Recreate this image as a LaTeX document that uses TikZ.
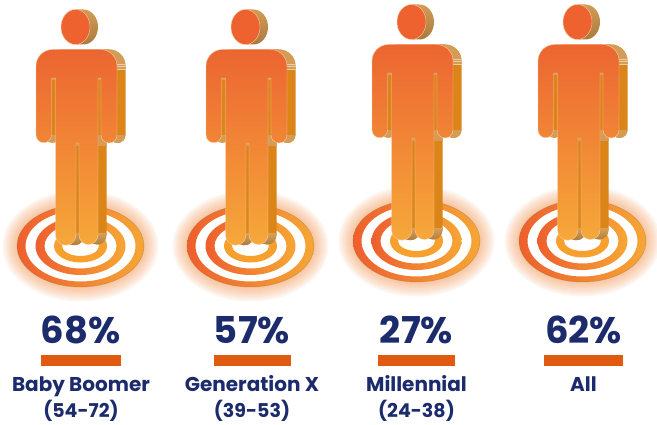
\documentclass[tikz,border=0pt]{standalone}
\usepackage{fontspec}
\setmainfont{Poppins}
\definecolor{navy}{HTML}{1C2B6B}
\definecolor{barc}{HTML}{E05A10}
\definecolor{darkex}{HTML}{DB8518}
\definecolor{tanex}{HTML}{D49C55}
\definecolor{tanlo}{HTML}{A87B3E}
\definecolor{topc}{HTML}{EC6531}
\definecolor{botc}{HTML}{F6A83A}
\definecolor{ringl}{HTML}{EE5F2E}
\definecolor{ringr}{HTML}{F6A635}
\definecolor{glowc}{HTML}{F7944F}
\definecolor{edgec}{HTML}{F8CDA8}
\tikzset{
  pct/.style={font=\bfseries\fontsize{37}{37}\selectfont,text=navy,anchor=base,inner sep=0pt},
  lab/.style={font=\bfseries\fontsize{20}{20}\selectfont,text=navy,anchor=base,inner sep=0pt},
  agelab/.style={font=\bfseries\fontsize{19}{19}\selectfont,text=navy,anchor=base,inner sep=0pt},
  barr/.style={fill=barc,draw=none},
}
\newcommand{\silh}{
  (51.5,78) -- (51.5,135) arc[start angle=0,end angle=180,radius=7.75]
  -- (36,66) arc[start angle=180,end angle=270,radius=16.5]
  -- (100.5,49.5) arc[start angle=270,end angle=360,radius=16.5]
  -- (117,135) arc[start angle=0,end angle=180,radius=8]
  -- (101,78) -- (98,78) -- (98,235) arc[start angle=0,end angle=180,radius=9.5]
  -- (79,143) -- (76,143) -- (76,235) arc[start angle=0,end angle=180,radius=10.25]
  -- (55.5,78) -- cycle}
\newcommand{\person}[2]{%
\begin{scope}[shift={(#1,#2)}]
  % glow
  \foreach \r in {2,4,...,16}{
    \fill[glowc,opacity=0.085] (80.5,246) ellipse[x radius=62+\r,y radius=39.5+\r];
  }
  \fill[white] (80.5,246) ellipse[x radius=63.5,y radius=41];
  % rings
  \path[left color=ringl,right color=ringr,even odd rule]
    (80.5,246) ellipse[x radius=63.5,y radius=41]
    (80.5,246) ellipse[x radius=55,y radius=35.5];
  \draw[black!35!ringr,opacity=.5,line width=.5pt] (80.5,246) ellipse[x radius=63.5,y radius=41];
  \path[left color=ringl,right color=ringr,even odd rule]
    (80.5,246) ellipse[x radius=45,y radius=29]
    (80.5,246) ellipse[x radius=36,y radius=22.5];
  \fill[even odd rule,fill=ringr!85!orange]
    (80.5,246) ellipse[x radius=26.5,y radius=16.5]
    (80.5,246) ellipse[x radius=18.5,y radius=10];
  % head depth
  \path[top color=tanex,bottom color=tanlo]
    (75.5,9.5) -- (83.5,9.5) arc[start angle=-90,end angle=90,x radius=14.5,y radius=17.5]
    -- (75.5,44.5) -- cycle;
  % body depth
  \begin{scope}[xshift=8.5]
    \fill[darkex] \silh;
  \end{scope}
  \begin{scope}[xshift=8.5]
    \clip \silh;
    \fill[tanex] (91,48) rectangle (122,70);
    \fill[tanex] (10,135) rectangle (122,146);
    \path[top color=tanex,bottom color=tanlo] (40,234) rectangle (115,246);
  \end{scope}
  \foreach \yy in {64,66.5,69}{
    \draw[tanex!50!white,line width=.35pt] (117,\yy) -- (125.5,\yy);
  }
  \fill[tanex] (51.5,78) rectangle (55.5,80);
  \fill[tanex] (98,78) rectangle (101,80);
  \fill[tanex] (76,143) rectangle (79,145);
  % front
  \path[top color=topc,bottom color=botc,draw=edgec,line width=.4pt] \silh;
  \fill[topc!97!red,draw=edgec,line width=.4pt] (75.5,27) ellipse[x radius=14.5,y radius=17.5];
\end{scope}}
\begin{document}
\begin{tikzpicture}[x=1pt,y=-1pt]
\useasboundingbox (0,0) rectangle (657,425);
\fill[white] (0,0) rectangle (657,425);
\person{0}{0}
\person{170}{0}
\person{336}{-5}
\person{502}{-5}
\node[pct] (p1) at (80.5,343) {68\%};
\node[pct] (p2) at (252,343) {57\%};
\node[pct] (p3) at (416.5,343) {27\%};
\node[pct] (p4) at (583.5,343) {62\%};
\fill[barr] (41,355) rectangle (121,366);
\fill[barr] (214,355) rectangle (291,366);
\fill[barr] (378,355) rectangle (455,366);
\fill[barr] (544,355) rectangle (623,366);
\node[lab] (l1) at (81,391) {Baby Boomer};
\node[agelab] (a1) at (81,417.5) {(54-72)};
\node[lab] (l2) at (252,391) {Generation X};
\node[agelab] (a2) at (252,417.5) {(39-53)};
\node[lab] (l3) at (416.5,391) {Millennial};
\node[agelab] (a3) at (416.5,417.5) {(24-38)};
\node[lab] (l4) at (583.5,391) {All};
\end{tikzpicture}
\end{document}
